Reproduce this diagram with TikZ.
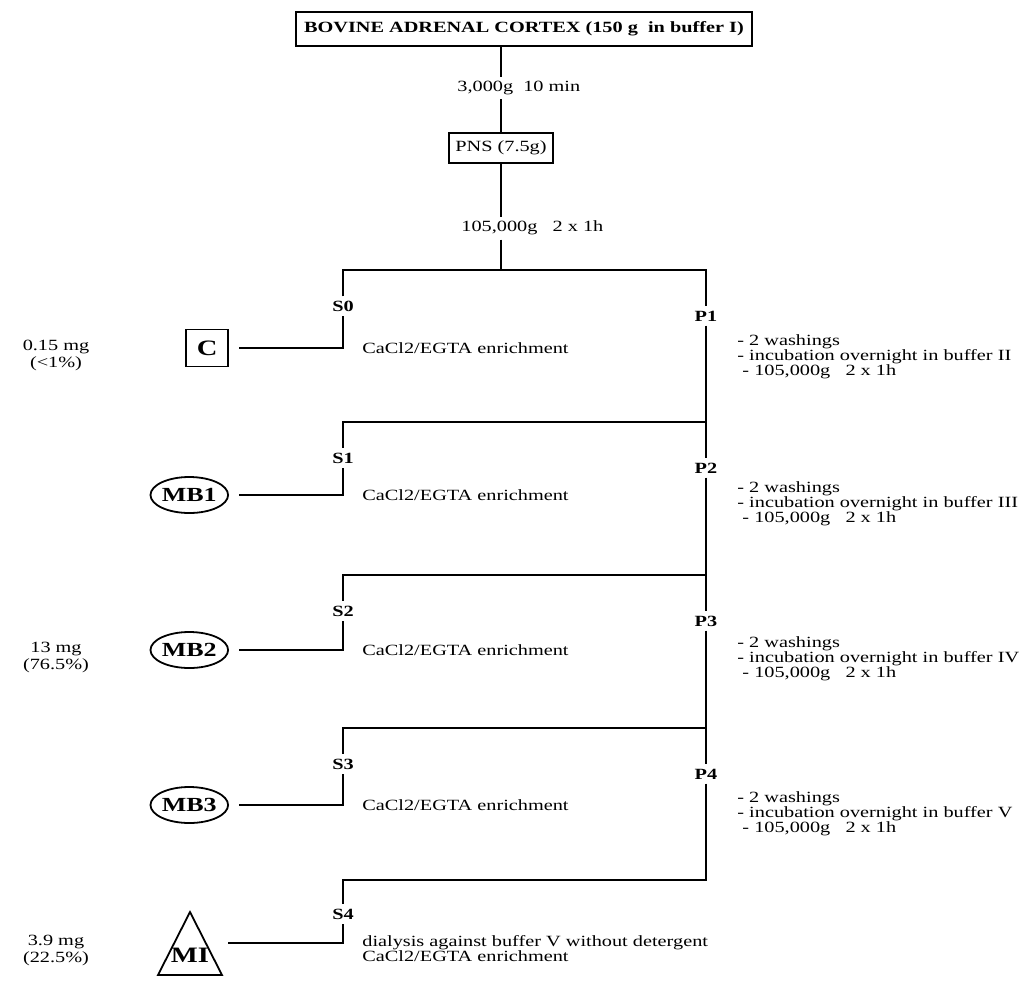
\documentclass[tikz,border=0pt]{standalone}
\usepackage{fontspec}
\setmainfont{Liberation Serif}[FakeStretch=1.3]
\usetikzlibrary{shapes.geometric,positioning}

\newcommand{\txtsize}{\fontsize{7.8}{8.4}\selectfont}

\begin{document}
\begin{tikzpicture}[
    x=0.5pt, y=-0.5pt,
    every node/.style={font=\txtsize},
    titlebox/.style={rectangle, draw, line width=0.9pt, font=\txtsize\bfseries,
        inner xsep=4pt, minimum height=17pt},
    pnsbox/.style={rectangle, draw, line width=0.9pt, inner xsep=3pt, minimum height=15pt},
    frac/.style={font=\txtsize\bfseries, inner sep=2pt},
    spin/.style={anchor=west, inner sep=2pt},
    note/.style={anchor=west, inner sep=0pt},
    steps/.style={anchor=north west, align=left, inner sep=0pt,
        font=\fontsize{7.8}{7.5}\selectfont},
    amount/.style={anchor=north, align=center, inner sep=0pt},
    ctrl/.style={rectangle, draw, line width=0.9pt, minimum width=21pt, minimum height=18.5pt,
        font=\fontsize{11}{11}\selectfont\bfseries},
    vesicle/.style={ellipse, draw, line width=0.9pt, minimum width=37pt, minimum height=18pt,
        inner sep=0pt, font=\fontsize{10}{10}\selectfont\bfseries},
    link/.style={line width=0.85pt},
    feed/.style={link, shorten <=5pt}
]
    \useasboundingbox (0,0) rectangle (1035,982);

    % Homogenate and post-nuclear supernatant
    \node[titlebox] (title) at (524,29) {BOVINE ADRENAL CORTEX (150 g~ in buffer I)};
    \node[spin] (spin1) at (453,88) {3,000g~ 10 min};
    \node[pnsbox] (pns) at (501,148) {PNS (7.5g)};
    \node[spin] (spin2) at (457,228) {105,000g~~ 2 x 1h};
    \coordinate (j0) at (501,270);

    \draw[link] (title.south -| pns.north) -- (pns.north |- spin1.north);
    \draw[link] (pns.north |- spin1.south) -- (pns.north);
    \draw[link] (pns.south) -- (pns.south |- spin2.north);
    \draw[link] (pns.south |- spin2.south) -- (j0);

    % --- Supernatants (left column) ---
    \node[frac] (s0) at (343,306) {S0};
    \node[frac] (s1) at (343,458) {S1};
    \node[frac] (s2) at (343,611) {S2};
    \node[frac] (s3) at (343,764) {S3};
    \node[frac] (s4) at (343,914) {S4};

    % --- Pellets (right column) ---
    \node[frac] (p1) at (706,316) {P1};
    \node[frac] (p2) at (706,468) {P2};
    \node[frac] (p3) at (706,621) {P3};
    \node[frac] (p4) at (706,774) {P4};

    \coordinate (j1) at (706,422);
    \coordinate (j2) at (706,575);
    \coordinate (j3) at (706,728);
    \coordinate (j4) at (706,880);

    \draw[link] (s0.north) -- (s0.north |- j0) -- (p1.north |- j0) -- (p1.north);
    \draw[link] (p1.south) -- (p2.north);
    \draw[link] (p2.south) -- (p3.north);
    \draw[link] (p3.south) -- (p4.north);
    \draw[link] (p4.south) -- (j4) -- (s4.north |- j4) -- (s4.north);
    \draw[link] (j1) -- (s1.north |- j1) -- (s1.north);
    \draw[link] (j2) -- (s2.north |- j2) -- (s2.north);
    \draw[link] (j3) -- (s3.north |- j3) -- (s3.north);

    % --- Fractions obtained ---
    \node[ctrl, anchor=east] (c) at (229,348) {C};
    \node[vesicle, anchor=east] (mb1) at (229,495) {MB1};
    \node[vesicle, anchor=east] (mb2) at (229,650) {MB2};
    \node[vesicle, anchor=east] (mb3) at (229,805) {MB3};
    \node[font=\fontsize{11}{11}\selectfont\bfseries, inner sep=0pt] (mi) at (190,955) {MI};
    \draw[line width=0.9pt] (190,912) -- (222,975) -- (158,975) -- cycle;
    \coordinate (mi-e) at (218,943);

    \draw[feed] (c.east) -- (c.east -| s0.south) -- (s0.south);
    \draw[feed] (mb1.east) -- (mb1.east -| s1.south) -- (s1.south);
    \draw[feed] (mb2.east) -- (mb2.east -| s2.south) -- (s2.south);
    \draw[feed] (mb3.east) -- (mb3.east -| s3.south) -- (s3.south);
    \draw[feed] (mi-e) -- (mi-e -| s4.south) -- (s4.south);

    % Enrichment steps
    \node[note] (e0) at (362,348) {CaCl2/EGTA enrichment};
    \node[note] (e1) at (362,495) {CaCl2/EGTA enrichment};
    \node[note] (e2) at (362,650) {CaCl2/EGTA enrichment};
    \node[note] (e3) at (362,805) {CaCl2/EGTA enrichment};
    \node[steps] (e4) at (362,935) {dialysis against buffer V without detergent\\CaCl2/EGTA enrichment};

    % Yields
    \node[amount] (y0) at (56,340) {0.15 mg\\(<1\%)};
    \node[amount] (y2) at (56,642) {13 mg\\(76.5\%)};
    \node[amount] (y4) at (56,935) {3.9 mg\\(22.5\%)};

    % Pellet treatments
    \node[steps] (w1) at (737,334) {- 2 washings\\- incubation overnight in buffer II\\\ - 105,000g~~ 2 x 1h};
    \node[steps] (w2) at (737,481) {- 2 washings\\- incubation overnight in buffer III\\\ - 105,000g~~ 2 x 1h};
    \node[steps] (w3) at (737,636) {- 2 washings\\- incubation overnight in buffer IV\\\ - 105,000g~~ 2 x 1h};
    \node[steps] (w4) at (737,791) {- 2 washings\\- incubation overnight in buffer V\\\ - 105,000g~~ 2 x 1h};
\end{tikzpicture}
\end{document}
